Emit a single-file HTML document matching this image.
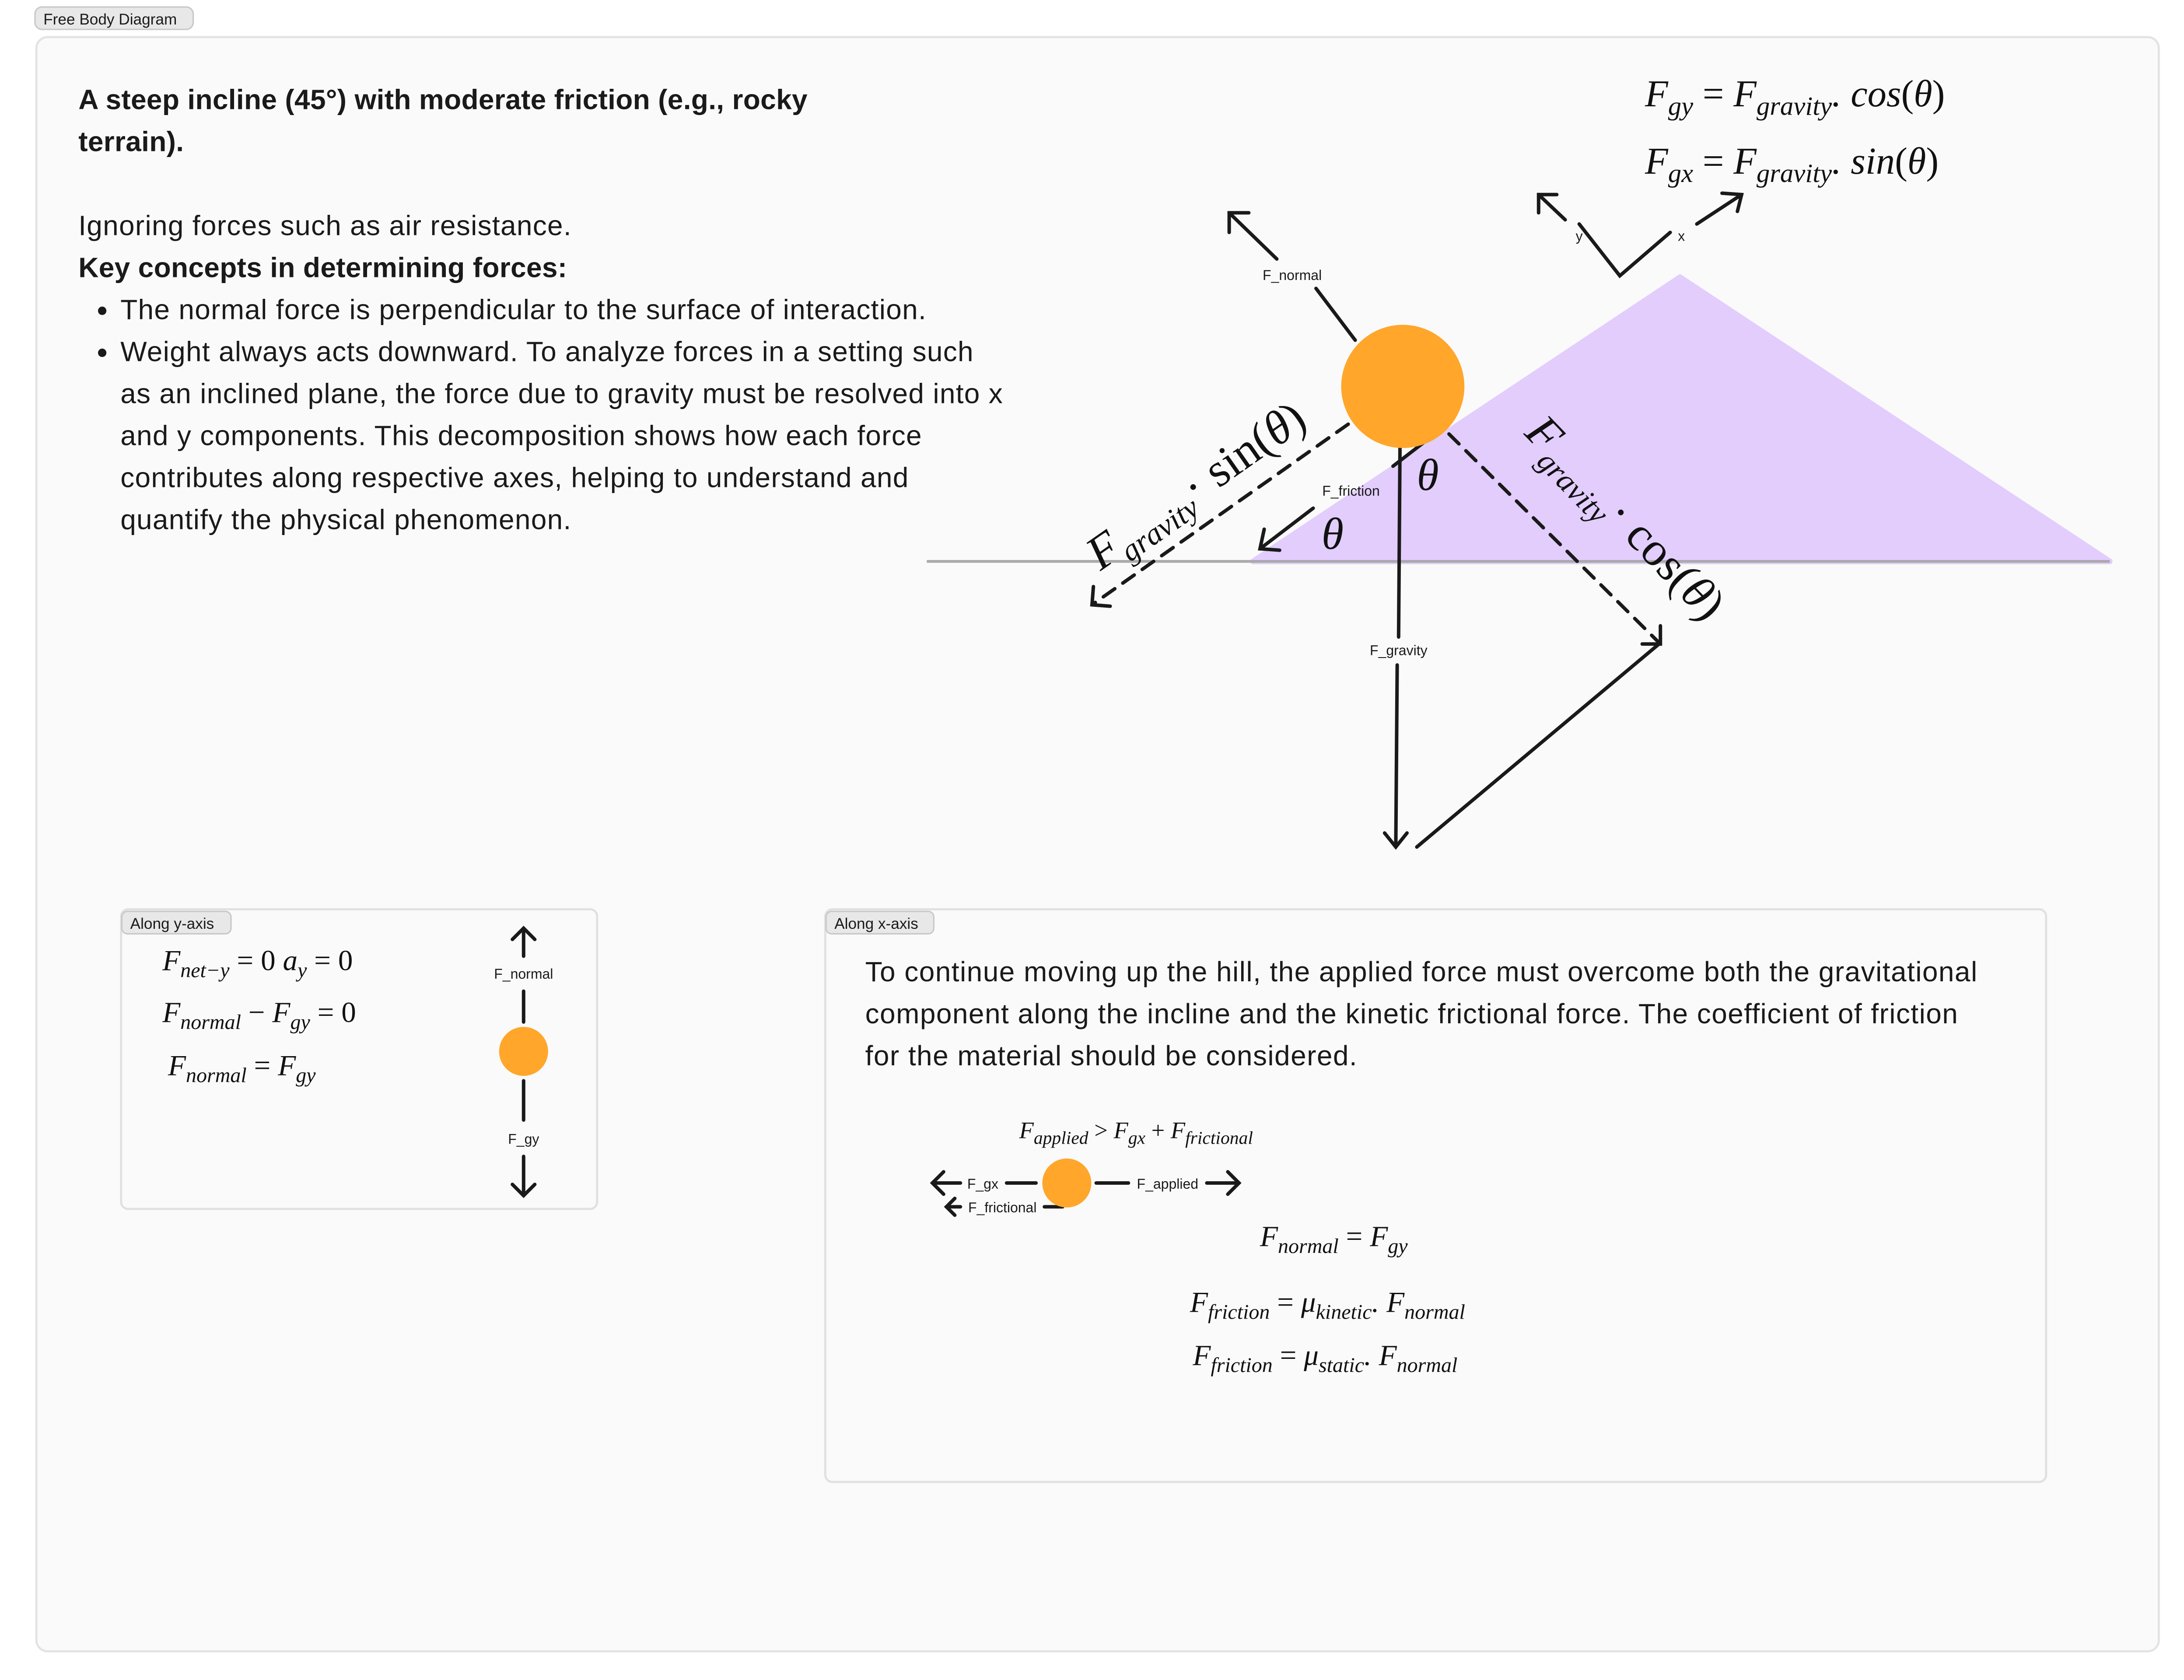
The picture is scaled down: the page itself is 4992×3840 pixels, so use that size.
<!DOCTYPE html>
<html><head><meta charset="utf-8"><style>
html,body{margin:0;padding:0;background:#fff;}
svg{display:block;}
.s{font-family:"Liberation Sans",sans-serif;fill:#1a1a1a;}
.m{font-family:"Liberation Serif",serif;font-style:italic;fill:#111;}
.n{font-style:normal;}
</style></head><body>
<svg width="4992" height="3840" viewBox="0 0 1560 1200" xmlns="http://www.w3.org/2000/svg">
<rect width="1560" height="1200" fill="#fff"/>
<rect x="25" y="5" width="113" height="16" rx="5" fill="#e8e8e8" stroke="#c8c8c8"/>
<text x="31" y="17.5" class="s" font-size="11">Free Body Diagram</text>
<rect x="26" y="26.5" width="1516" height="1153" rx="8" fill="#fafafa" stroke="#e3e3e3" stroke-width="1.5"/>

<g class="s" font-size="20" letter-spacing="0.4">
<text x="56" y="78" font-weight="bold" letter-spacing="0.1">A steep incline (45°) with moderate friction (e.g., rocky</text>
<text x="56" y="108" font-weight="bold" letter-spacing="0.1">terrain).</text>
<text x="56" y="168">Ignoring forces such as air resistance.</text>
<text x="56" y="198" font-weight="bold" letter-spacing="0.1">Key concepts in determining forces:</text>
<circle cx="73" cy="222" r="3" fill="#1a1a1a"/>
<text x="86" y="228">The normal force is perpendicular to the surface of interaction.</text>
<circle cx="73" cy="252" r="3" fill="#1a1a1a"/>
<text x="86" y="258">Weight always acts downward. To analyze forces in a setting such</text>
<text x="86" y="288">as an inclined plane, the force due to gravity must be resolved into x</text>
<text x="86" y="318">and y components. This decomposition shows how each force</text>
<text x="86" y="348">contributes along respective axes, helping to understand and</text>
<text x="86" y="378">quantify the physical phenomenon.</text>
</g>

<polygon points="895,401 1200,198 1507,401" fill="#e2cdfd" stroke="#e2cdfd" stroke-width="4" stroke-linejoin="round"/>
<line x1="662" y1="401" x2="1507" y2="401" stroke="#aaa" stroke-width="2"/>

<g stroke="#1a1a1a" stroke-width="2.5" fill="none" stroke-linecap="round">
<line x1="968" y1="243" x2="940" y2="206"/>
<line x1="912" y1="185" x2="878" y2="152"/>
<polyline points="878,166 878,152 892,152"/>
<polyline points="1128,160 1157,197 1193,166"/>
<line x1="1118" y1="157" x2="1099" y2="139"/>
<polyline points="1099,152 1099,139 1112,139"/>
<line x1="1212" y1="160" x2="1244" y2="139"/>
<polyline points="1230,138 1244,139 1241,151"/>
<line x1="1030" y1="306" x2="995" y2="333"/>
<line x1="938" y1="363" x2="900" y2="392"/>
<polyline points="903,378 900,392 914,393"/>
<line x1="963" y1="303" x2="780" y2="432" stroke-dasharray="10,7"/>
<polyline points="781,419 780,432 793,433"/>
<line x1="1035" y1="310" x2="1186" y2="460" stroke-dasharray="10,7"/>
<polyline points="1173,460 1186,460 1186,447"/>
<line x1="1000" y1="318" x2="999" y2="455"/>
<line x1="998" y1="475" x2="997" y2="604"/>
<polyline points="989,595 997,605 1005,595"/>
<line x1="1012" y1="605" x2="1185" y2="460"/>
</g>
<circle cx="1002" cy="276" r="44" fill="#ffa62b"/>
<g class="s" font-size="10">
<text x="923" y="200" text-anchor="middle">F_normal</text>
<text x="1128" y="172" text-anchor="middle">y</text>
<text x="1201" y="172" text-anchor="middle">x</text>
<text x="965" y="354" text-anchor="middle">F_friction</text>
<text x="999" y="468" text-anchor="middle">F_gravity</text>
</g>
<text x="1012" y="350" class="m" font-size="32">θ</text>
<text x="944" y="392" class="m" font-size="32">θ</text>
<text class="m" font-size="34" transform="translate(786,408) rotate(-35)">F<tspan font-size="22" dy="7">gravity</tspan><tspan dy="-7" class="n">· sin(</tspan>θ<tspan class="n">)</tspan></text>
<text class="m" font-size="34" transform="translate(1088,310) rotate(46)">F<tspan font-size="22" dy="8">gravity</tspan><tspan dy="-8" class="n">· cos(</tspan>θ<tspan class="n">)</tspan></text>

<text x="1175" y="76" class="m" font-size="27">F<tspan font-size="19" dy="6">gy</tspan><tspan dy="-6" class="n"> = </tspan>F<tspan font-size="19" dy="6">gravity</tspan><tspan dy="-6">. cos</tspan><tspan class="n">(</tspan>θ<tspan class="n">)</tspan></text>
<text x="1175" y="124" class="m" font-size="27">F<tspan font-size="19" dy="6">gx</tspan><tspan dy="-6" class="n"> = </tspan>F<tspan font-size="19" dy="6">gravity</tspan><tspan dy="-6">. sin</tspan><tspan class="n">(</tspan>θ<tspan class="n">)</tspan></text>

<rect x="86.5" y="649.5" width="340" height="214" rx="5" fill="#fafafa" stroke="#e0e0e0" stroke-width="1.5"/>
<rect x="87" y="651" width="78" height="16" rx="4" fill="#e8e8e8" stroke="#c8c8c8"/>
<text x="93" y="663.5" class="s" font-size="11">Along y-axis</text>
<text x="116" y="693" class="m" font-size="21">F<tspan font-size="15" dy="5">net−y</tspan><tspan dy="-5" class="n"> = 0  </tspan>a<tspan font-size="15" dy="5">y</tspan><tspan dy="-5" class="n"> = 0</tspan></text>
<text x="116" y="730" class="m" font-size="21">F<tspan font-size="15" dy="5">normal</tspan><tspan dy="-5" class="n"> − </tspan>F<tspan font-size="15" dy="5">gy</tspan><tspan dy="-5" class="n"> = 0</tspan></text>
<text x="120" y="768" class="m" font-size="21">F<tspan font-size="15" dy="5">normal</tspan><tspan dy="-5" class="n"> = </tspan>F<tspan font-size="15" dy="5">gy</tspan></text>

<rect x="589.5" y="649.5" width="872" height="409" rx="5" fill="#fafafa" stroke="#e0e0e0" stroke-width="1.5"/>
<rect x="590" y="651" width="77" height="16" rx="4" fill="#e8e8e8" stroke="#c8c8c8"/>
<text x="596" y="663.5" class="s" font-size="11">Along x-axis</text>

<g stroke="#1a1a1a" stroke-width="2.5" fill="none" stroke-linecap="round">
<line x1="374" y1="663" x2="374" y2="683"/><polyline points="366,671 374,663 382,671"/>
<line x1="374" y1="708" x2="374" y2="730"/>
<line x1="374" y1="772" x2="374" y2="800"/>
<line x1="374" y1="826" x2="374" y2="854"/><polyline points="366,846 374,854 382,846"/>
<line x1="740" y1="845" x2="719" y2="845"/>
<line x1="686" y1="845" x2="666" y2="845"/><polyline points="674,837 666,845 674,853"/>
<line x1="759" y1="862" x2="746" y2="862"/>
<line x1="686" y1="862" x2="676" y2="862"/><polyline points="682,856 676,862 682,868"/>
<line x1="783" y1="845" x2="806" y2="845"/>
<line x1="862" y1="845" x2="885" y2="845"/><polyline points="877,837 885,845 877,853"/>
</g>
<circle cx="374" cy="751" r="17.5" fill="#ffa62b"/>
<text x="374" y="699" class="s" font-size="10" text-anchor="middle">F_normal</text>
<text x="374" y="817" class="s" font-size="10" text-anchor="middle">F_gy</text>

<g class="s" font-size="20" letter-spacing="0.45">
<text x="618" y="701">To continue moving up the hill, the applied force must overcome both the gravitational</text>
<text x="618" y="731">component along the incline and the kinetic frictional force. The coefficient of friction</text>
<text x="618" y="761">for the material should be considered.</text>
</g>
<text x="728" y="813" class="m" font-size="17">F<tspan font-size="13" dy="4">applied</tspan><tspan dy="-4" class="n"> &gt; </tspan>F<tspan font-size="13" dy="4">gx</tspan><tspan dy="-4" class="n"> + </tspan>F<tspan font-size="13" dy="4">frictional</tspan></text>
<circle cx="762" cy="845" r="17.5" fill="#ffa62b"/>
<g class="s" font-size="10">
<text x="702" y="849" text-anchor="middle">F_gx</text>
<text x="716" y="866" text-anchor="middle">F_frictional</text>
<text x="834" y="849" text-anchor="middle">F_applied</text>
</g>
<text x="900" y="890" class="m" font-size="21">F<tspan font-size="15" dy="5">normal</tspan><tspan dy="-5" class="n"> = </tspan>F<tspan font-size="15" dy="5">gy</tspan></text>
<text x="850" y="937" class="m" font-size="21">F<tspan font-size="15" dy="5">friction</tspan><tspan dy="-5" class="n"> = </tspan>μ<tspan font-size="15" dy="5">kinetic</tspan><tspan dy="-5">. F</tspan><tspan font-size="15" dy="5">normal</tspan></text>
<text x="852" y="975" class="m" font-size="21">F<tspan font-size="15" dy="5">friction</tspan><tspan dy="-5" class="n"> = </tspan>μ<tspan font-size="15" dy="5">static</tspan><tspan dy="-5">. F</tspan><tspan font-size="15" dy="5">normal</tspan></text>
</svg>
</body></html>
